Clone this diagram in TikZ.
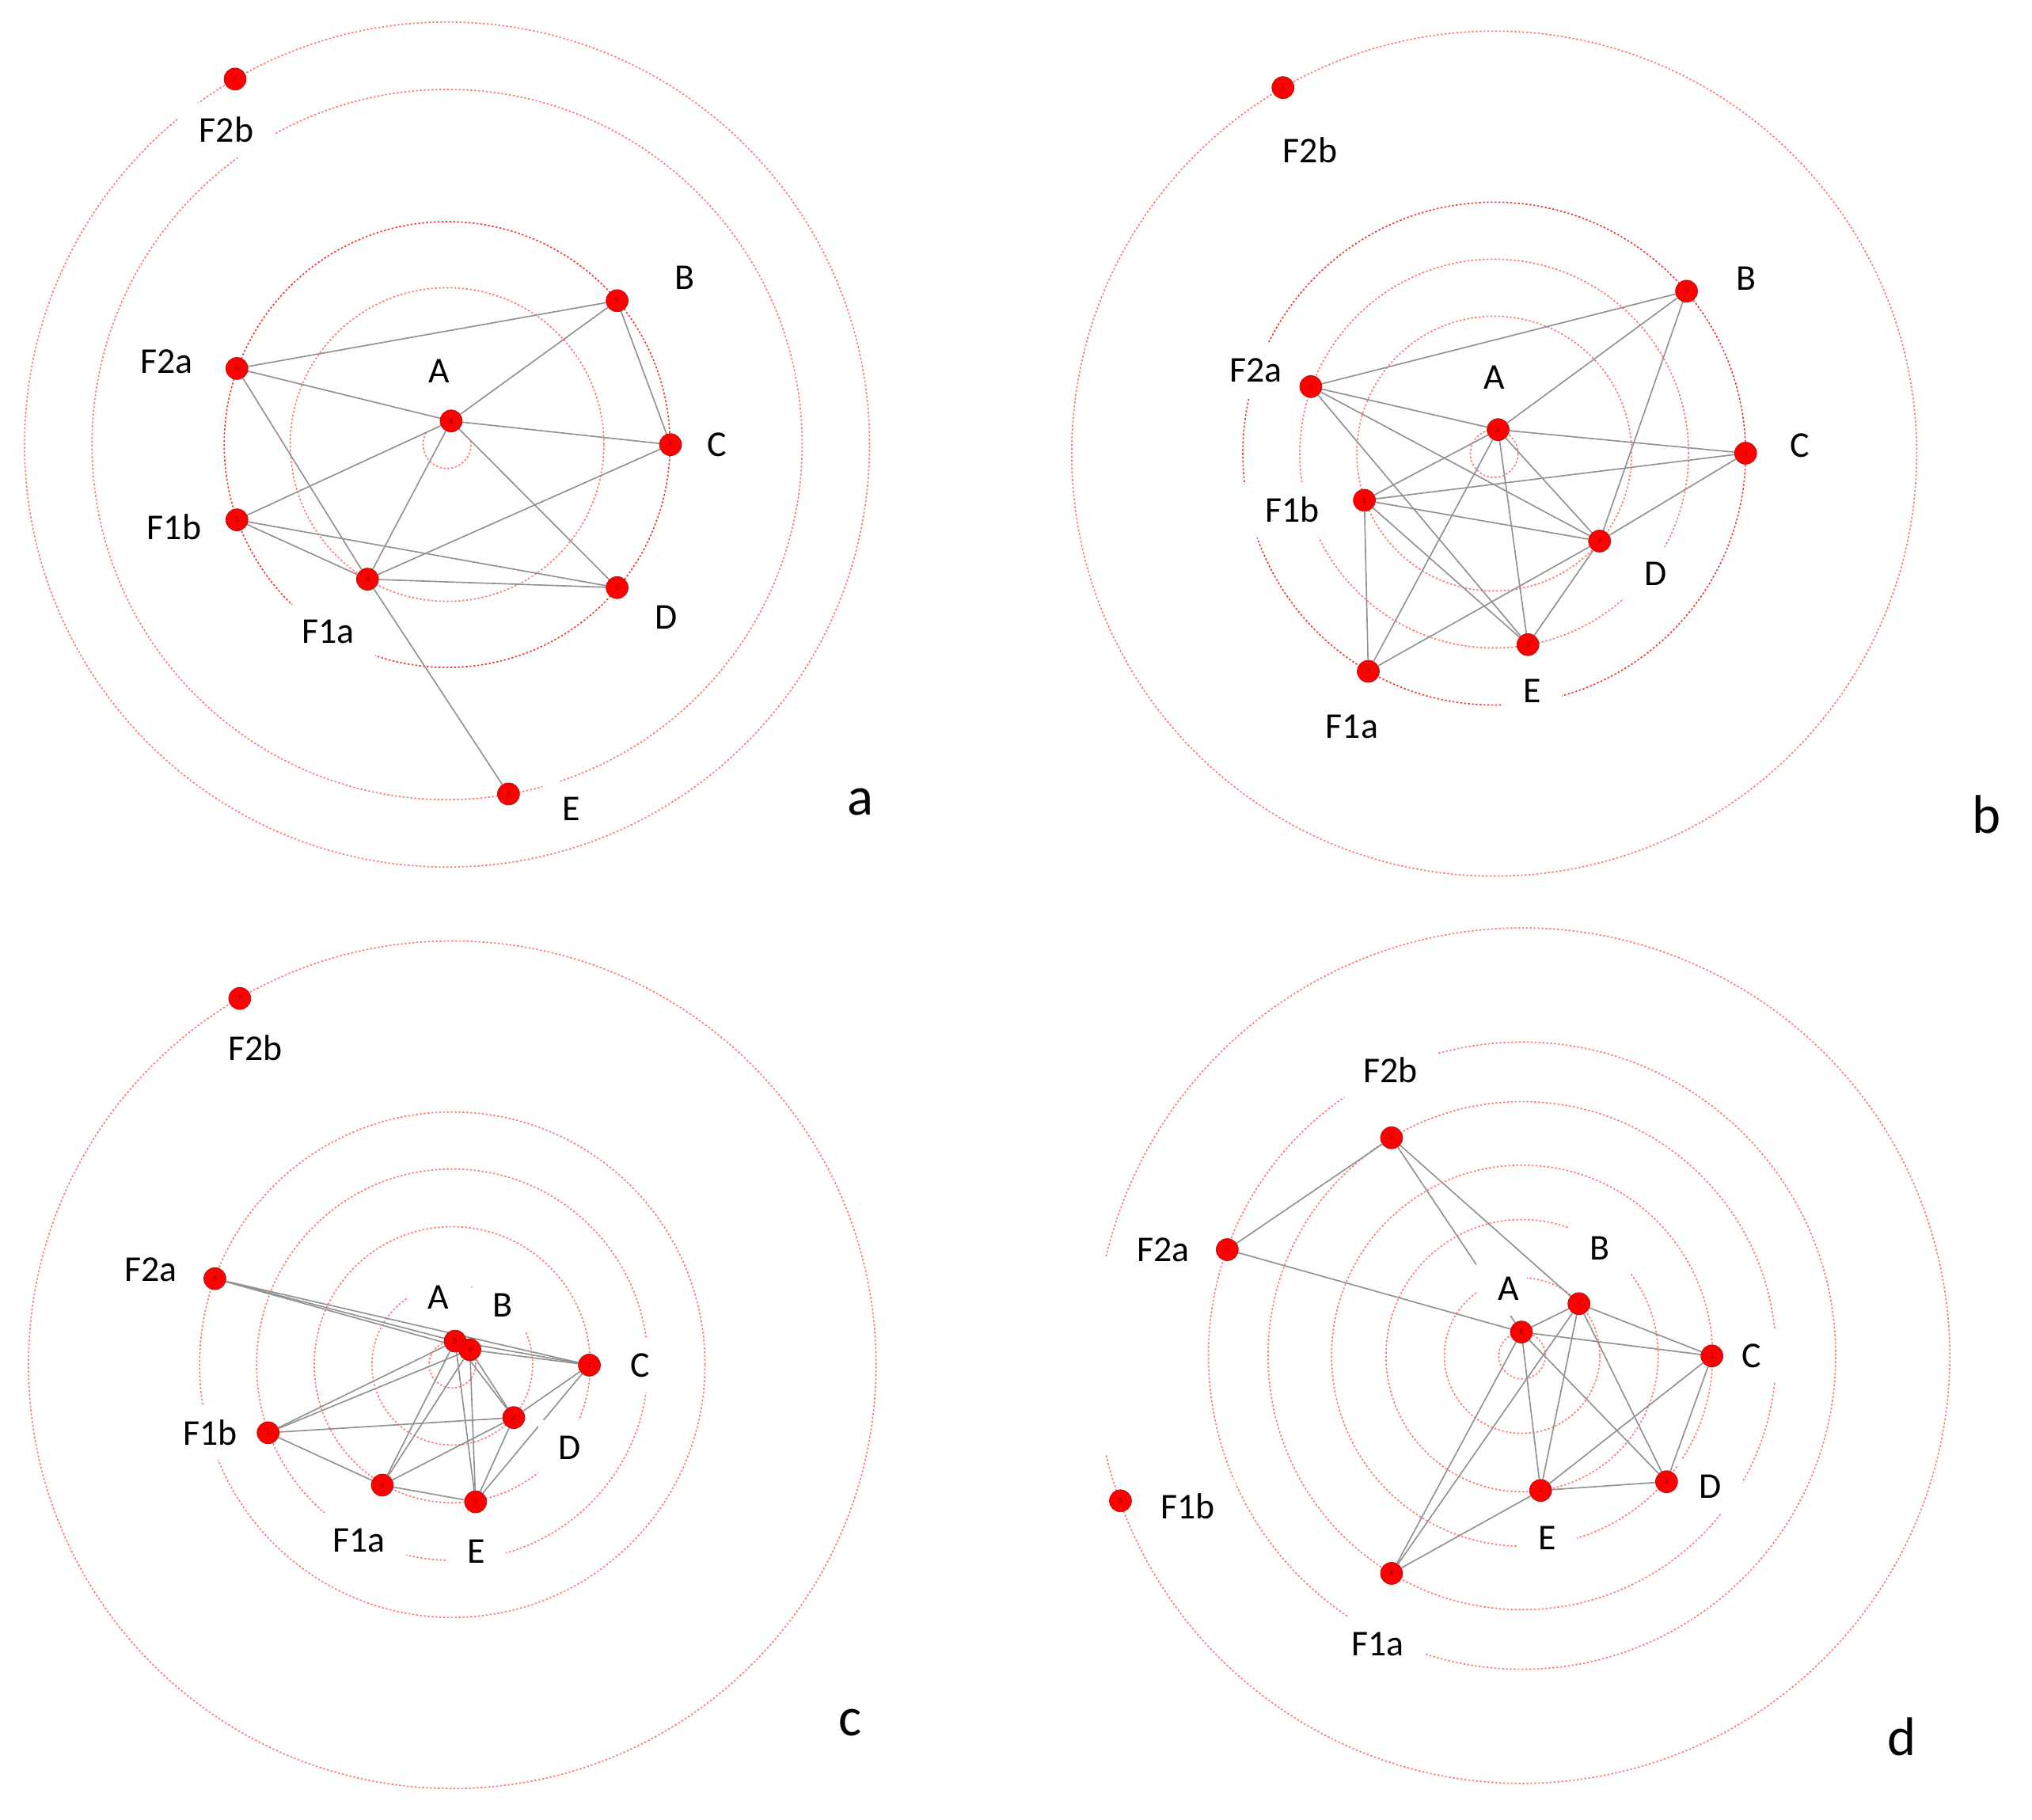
\documentclass[tikz,border=0pt]{standalone}
\usepackage{fontspec}
\setmainfont{Carlito}
\pgfdeclarelayer{ringlayer}
\pgfdeclarelayer{edgelayer}
\pgfdeclarelayer{labellayer}
\pgfsetlayers{ringlayer,edgelayer,labellayer,main}
\definecolor{ringc}{RGB}{255,120,120}
\definecolor{ringd}{RGB}{240,55,55}
\definecolor{edgec}{RGB}{145,145,145}
\definecolor{nodeb}{RGB}{170,25,25}
\definecolor{numc}{RGB}{130,0,0}
\begin{document}
\begin{tikzpicture}[x=1pt,y=1pt,
  ring/.style={draw=ringc, line width=1pt, dash pattern=on 1.5pt off 1.5pt},
  ringstrong/.style={ring, draw=ringd},
  vert/.style={circle, fill=red, draw=nodeb, line width=0.5pt, minimum size=17pt, inner sep=0pt, font=\fontsize{6}{6}\selectfont, text=numc},
  lbl/.style={fill=white, inner xsep=16pt, inner ysep=0pt, minimum height=42pt, font=\fontsize{28}{30}\selectfont, text=black},
  panel/.style={font=\fontsize{42}{44}\selectfont, text=black, inner sep=0pt},
  edge/.style={draw=edgec, line width=1pt}]
\useasboundingbox (0,0) rectangle (1568,-1404);

% ---------------- rings ----------------
\begin{pgfonlayer}{ringlayer}
% panel a
\draw[ring] (345,-343) ++(150:18.5) arc[start angle=150, end angle=372, radius=18.5];
\draw[ring] (345,-343) circle[radius=121];
\draw[ringstrong] (345,-343) circle[radius=172];
\draw[ring] (345,-343) circle[radius=274];
\draw[ring] (345,-343) circle[radius=326];
% panel b
\draw[ring] (1153,-350) circle[radius=18.4];
\draw[ring] (1153,-350) circle[radius=106];
\draw[ring] (1153,-350) circle[radius=150];
\draw[ringstrong] (1153,-350) circle[radius=194];
\draw[ring] (1153,-350) circle[radius=326];
% panel c
\draw[ring] (349,-1053) circle[radius=18];
\draw[ring] (349,-1053) circle[radius=62];
\draw[ring] (349,-1053) circle[radius=106.5];
\draw[ring] (349,-1053) circle[radius=151];
\draw[ring] (349,-1053) circle[radius=195];
\draw[ring] (349,-1053) circle[radius=327];
% panel d
\draw[ring] (1174.5,-1046) circle[radius=18];
\draw[ring] (1174.5,-1046) circle[radius=60];
\draw[ring] (1174.5,-1046) circle[radius=105];
\draw[ring] (1174.5,-1046) circle[radius=147];
\draw[ring] (1174.5,-1046) circle[radius=196];
\draw[ring] (1174.5,-1046) circle[radius=242];
\draw[ring] (1174.5,-1046) ++(193.5:330) arc[start angle=193.5, end angle=526.6, radius=330];
\end{pgfonlayer}

% ---------------- panel a nodes ----------------
\node[vert] (aA) at (348.1,-324.8) {8};
\node[vert] (aB) at (476.2,-232) {9};
\node[vert] (aC) at (517.4,-343.1) {1};
\node[vert] (aD) at (476.2,-453.4) {2};
\node[vert] (aE) at (392.4,-612.6) {3};
\node[vert] (aF1a) at (283.6,-446.9) {4};
\node[vert] (aF1b) at (182.8,-401.1) {5};
\node[vert] (aF2a) at (182.8,-284.3) {6};
\node[vert] (aF2b) at (181.4,-61) {7};

% ---------------- panel b nodes ----------------
\node[vert] (bA) at (1156,-331.5) {8};
\node[vert] (bB) at (1301.4,-224.7) {9};
\node[vert] (bC) at (1347,-349.7) {1};
\node[vert] (bD) at (1234.3,-417.5) {2};
\node[vert] (bE) at (1179,-497.4) {3};
\node[vert] (bF1a) at (1055.8,-518) {4};
\node[vert] (bF1b) at (1052.8,-386) {5};
\node[vert] (bF2a) at (1011.5,-298.3) {6};
\node[vert] (bF2b) at (990,-67.6) {7};

% ---------------- panel c nodes ----------------
\node[vert] (cA) at (351.2,-1034.8) {8};
\node[vert] (cB) at (362.6,-1041.4) {9};
\node[vert] (cC) at (454.8,-1053.3) {1};
\node[vert] (cD) at (396.4,-1093.8) {2};
\node[vert] (cE) at (367,-1158.8) {3};
\node[vert] (cF1a) at (295,-1145.9) {4};
\node[vert] (cF1b) at (206.9,-1105.5) {5};
\node[vert] (cF2a) at (165.8,-986.6) {6};
\node[vert] (cF2b) at (185,-770.4) {7};

% ---------------- panel d nodes ----------------
\node[vert] (dA) at (1174,-1027.8) {8};
\node[vert] (dB) at (1218.4,-1005.9) {9};
\node[vert] (dC) at (1321,-1046.2) {1};
\node[vert] (dD) at (1286,-1143.3) {2};
\node[vert] (dE) at (1188.8,-1150) {3};
\node[vert] (dF1a) at (1073.8,-1214) {4};
\node[vert] (dF1b) at (864.6,-1158) {5};
\node[vert] (dF2a) at (947,-964.2) {6};
\node[vert] (dF2b) at (1073.8,-877.9) {7};

% ---------------- edges ----------------
\begin{pgfonlayer}{edgelayer}
% a
\foreach \s/\t in {F2a/B, F2a/A, F2a/F1a, A/B, A/C, A/F1b, A/F1a, A/D, B/C, C/F1a, F1b/D, F1b/F1a, F1a/D, F1a/E}
  \draw[edge] (a\s) -- (a\t);
% b
\foreach \s/\t in {F2a/B, F2a/A, F2a/D, F2a/E, A/B, A/C, A/F1b, A/F1a, A/E, A/D, B/D, C/F1b, C/D, F1b/D, F1b/E, F1b/F1a, F1a/D, D/E}
  \draw[edge] (b\s) -- (b\t);
% c
\foreach \s/\t in {F2a/A, F2a/B, F2a/C, A/C, B/C, F1b/A, F1b/B, F1b/D, F1b/F1a, F1a/A, F1a/B, F1a/D, F1a/E, E/A, E/B, E/D, E/C, D/A, D/B, D/C}
  \draw[edge] (c\s) -- (c\t);
% d
\foreach \s/\t in {F2b/F2a, F2b/A, F2b/B, F2a/A, A/B, A/C, B/C, A/E, A/D, A/F1a, B/F1a, B/E, B/D, C/E, C/D, E/D, E/F1a}
  \draw[edge] (d\s) -- (d\t);
\end{pgfonlayer}

% ---------------- labels ----------------
\begin{pgfonlayer}{labellayer}
% a
\node[lbl] (aLA) at (339,-286.5) {A};
\node[lbl] (aLB) at (528.6,-214.5) {B};
\node[lbl] (aLC) at (553,-343) {C};
\node[lbl] (aLD) at (514,-476.5) {D};
\node[lbl] (aLE) at (441,-624) {E};
\node[lbl] (aLF1a) at (253,-487.5) {F1a};
\node[lbl] (aLF1b) at (134.4,-406.8) {F1b};
\node[lbl] (aLF2a) at (128.6,-279) {F2a};
\node[lbl] (aLF2b) at (174.7,-100.3) {F2b};
% b
\node[lbl] (bLA) at (1152.8,-291.4) {A};
\node[lbl] (bLB) at (1347.7,-214.7) {B};
\node[lbl] (bLC) at (1388.7,-343.8) {C};
\node[lbl] (bLD) at (1277.6,-442.8) {D};
\node[lbl] (bLE) at (1182.4,-533) {E};
\node[lbl] (bLF1a) at (1043.2,-560.6) {F1a};
\node[lbl] (bLF1b) at (997.3,-393.5) {F1b};
\node[lbl] (bLF2a) at (969,-285.8) {F2a};
\node[lbl] (bLF2b) at (1011,-115.6) {F2b};
% c
\node[lbl, minimum height=34pt] (cLA) at (338,-1001) {A};
\node[lbl] (cLB) at (388,-1007) {B};
\node[lbl] (cLC) at (494,-1053.3) {C};
\node[lbl] (cLD) at (439.8,-1116.8) {D};
\node[lbl] (cLE) at (367.4,-1196.8) {E};
\node[lbl] (cLF1a) at (276.9,-1188.5) {F1a};
\node[lbl] (cLF1b) at (162.2,-1105.5) {F1b};
\node[lbl] (cLF2a) at (116.5,-979.9) {F2a};
\node[lbl] (cLF2b) at (197,-808.5) {F2b};
% d
\node[lbl, inner xsep=6pt] (dLA) at (1158.5,-994.2) {\hspace*{11pt}A};
\node[lbl] (dLB) at (1234.7,-962.9) {B};
\node[lbl] (dLC) at (1351.7,-1046.2) {C};
\node[lbl] (dLD) at (1319.6,-1146.9) {D};
\node[lbl] (dLE) at (1193.7,-1186.7) {E};
\node[lbl] (dLF1a) at (1063,-1268.6) {F1a};
\node[lbl] (dLF1b) at (916.4,-1162.5) {F1b};
\node[lbl] (dLF2a) at (897.6,-964.2) {F2a};
\node[lbl] (dLF2b) at (1072.8,-825.5) {F2b};
\end{pgfonlayer}

% panel letters
\node[panel] (pa) at (664,-619) {a};
\node[panel] (pb) at (1532.8,-628.3) {b};
\node[panel] (pc) at (656,-1329) {c};
\node[panel] (pd) at (1467.6,-1340.2) {d};
\end{tikzpicture}
\end{document}
